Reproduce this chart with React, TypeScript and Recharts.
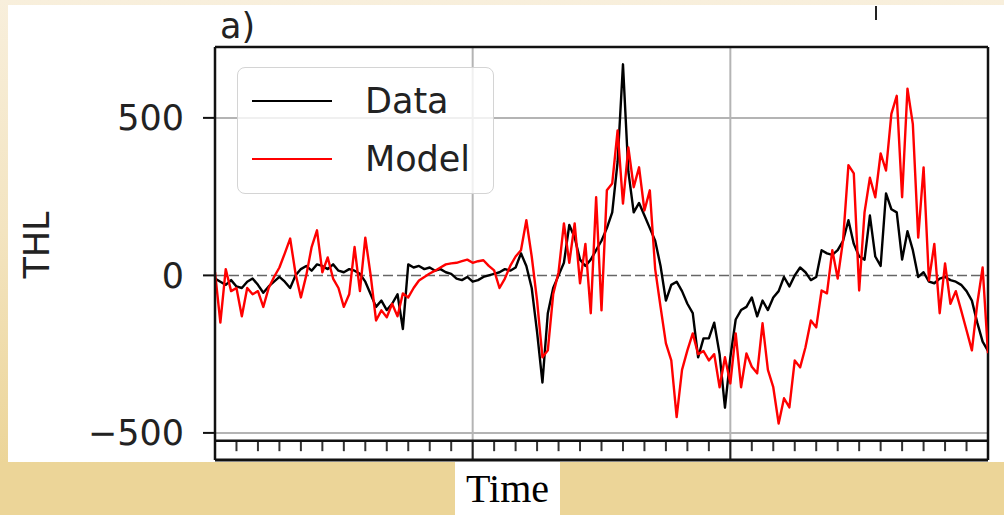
import React from 'react';
import { LineChart, Line, XAxis, YAxis, ReferenceLine, Legend } from 'recharts';

// sampling step in months along the 3-year time axis
const STEP = 0.25;

const dataValues = [
  -10, -20, -30, -15, -35, -40, -20, -10, -30, -55,
  -35, -20, -5, -20, -40, 0, 20, 30, 15, 35,
  30, 20, 35, 15, 10, 20, 15, 5, -20, -60,
  -100, -80, -110, -90, -60, -170, 35, 25, 30, 20,
  25, 15, 20, 10, 5, -10, -15, -5, -20, -15,
  -5, 0, 5, 10, 20, 15, 25, 70, 30, -40,
  -180, -340, -120, -40, 0, 40, 160, 120, 50, 30,
  50, 80, 110, 150, 200, 360, 670, 330, 200, 230,
  190, 150, 110, 30, -80, -30, -20, -50, -90, -120,
  -260, -200, -200, -150, -250, -420, -260, -140, -110, -100,
  -70, -130, -80, -110, -70, -50, -5, -35, 0, 25,
  10, -15, -5, 80, 70, 65, 80, 110, 175, 100,
  60, 50, 190, 60, 30, 260, 210, 200, 50, 140,
  80, -5, 10, -20, -25, -10, -5, -15, -20, -30,
  -50, -80, -150, -210, -240,
];

const modelValues = [
  10, -150, 20, -50, -40, -130, -40, -60, -50, -100,
  -40, -5, 25, 70, 117, 6, -70, 0, 90, 143,
  10, 57, -10, -40, -100, -60, 90, -50, 120, 0,
  -143, -111, -133, -90, -130, -57, -70, -40, -16, -5,
  6, 15, 25, 35, 38, 40, 45, 50, 40, 45,
  48, 30, 16, -40, -10, 30, 60, 80, 175, 60,
  -80, -260, -238, -60, 10, 165, 40, 165, -25, 100,
  -120, 248, -111, 270, 292, 460, 228, 406, 280, 343,
  206, 270, 20, -100, -216, -270, -450, -300, -238, -184,
  -250, -240, -270, -250, -355, -260, -343, -184, -355, -248,
  -290, -311, -152, -300, -355, -470, -390, -419, -270, -292,
  -228, -143, -165, -48, -57, 80, -10, 111, 350, 324,
  -48, 200, 310, 248, 387, 333, 513, 570, 248, 593,
  480, 120, 343, -16, 100, -120, 38, -90, -50, -111,
  -174, -238, -90, 25, -247,
];

const yTicks = [-500, 0, 500];
const gridValuesY = [500, -500];
const yearBoundaries = [12, 24];
const monthTicks = [
  1, 2, 3, 4, 5, 6, 7, 8, 9, 10, 11,
  13, 14, 15, 16, 17, 18, 19, 20, 21, 22, 23,
  25, 26, 27, 28, 29, 30, 31, 32, 33, 34, 35,
];
const X_DOMAIN: [number, number] = [0, 36];
const Y_DOMAIN: [number, number] = [-586, 725];
const STRIP_TOP = -525;
const STRIP_TICK_END = -558;

const rows = dataValues.map((d, i) => ({ t: i * STEP, data: d, model: modelValues[i] }));

const FONT = '"DejaVu Sans", sans-serif';

const renderLegend = (props: any) => {
  const payload = props.payload || [];
  return (
    <div
      style={{
        width: 257,
        height: 127,
        border: '1.5px solid #d4d4d4',
        borderRadius: 8,
        background: 'rgba(255,255,255,0.8)',
        paddingTop: 4,
        boxSizing: 'border-box',
        fontFamily: FONT,
        fontSize: 35,
        color: '#222',
      }}
    >
      {payload.map((p: any) => (
        <div key={p.value} style={{ display: 'flex', alignItems: 'center', height: 58 }}>
          <svg width={80} height={4} style={{ marginLeft: 14, display: 'block' }}>
            <line x1={0} y1={2} x2={80} y2={2} stroke={p.color} strokeWidth={2} />
          </svg>
          <span style={{ marginLeft: 33, lineHeight: '40px' }}>{p.value}</span>
        </div>
      ))}
    </div>
  );
};

export default function App() {
  return (
    <div
      style={{
        position: 'absolute',
        left: 0,
        top: 0,
        width: 1004,
        height: 515,
        overflow: 'hidden',
        background: 'linear-gradient(to bottom, #f8efdc 0%, #f3e4c0 45%, #ecd598 90%, #ecd598 100%)',
      }}
    >
      <div style={{ position: 'absolute', left: 8, top: 5, width: 996, height: 457, background: '#ffffff' }} />
      <div
        style={{
          position: 'absolute',
          left: 455,
          top: 462,
          width: 105,
          height: 53,
          background: '#ffffff',
          fontFamily: '"Liberation Serif", "Times New Roman", serif',
          fontSize: 40,
          lineHeight: '53px',
          textAlign: 'center',
          color: '#000',
        }}
      >
        Time
      </div>
      <div style={{ position: 'absolute', left: 875, top: 6, width: 2, height: 14, background: '#222' }} />
      <div
        style={{
          position: 'absolute',
          left: 220,
          top: 4,
          fontFamily: FONT,
          fontSize: 35,
          lineHeight: '44px',
          color: '#222',
        }}
      >
        a)
      </div>
      <div
        style={{
          position: 'absolute',
          left: -13,
          top: 225,
          width: 100,
          height: 40,
          lineHeight: '40px',
          textAlign: 'center',
          transform: 'rotate(-90deg)',
          fontFamily: FONT,
          fontSize: 35,
          color: '#222',
        }}
      >
        THL
      </div>
      <div style={{ position: 'absolute', left: 0, top: 0 }}>
        <LineChart width={1004} height={515} data={rows} margin={{ top: 47, right: 16, bottom: 55, left: 0 }}>
          <XAxis dataKey="t" type="number" domain={X_DOMAIN} allowDataOverflow hide />
          <YAxis
            type="number"
            domain={Y_DOMAIN}
            allowDataOverflow
            ticks={yTicks}
            interval={0}
            width={215}
            tickSize={12}
            tickMargin={19}
            axisLine={{ stroke: '#111', strokeWidth: 2.5 }}
            tickLine={{ stroke: '#111', strokeWidth: 2 }}
            tick={{ fontSize: 35, fill: '#222', fontFamily: FONT }}
            tickFormatter={(v: number) => (v < 0 ? `\u2212${Math.abs(v)}` : `${v}`)}
          />
          {gridValuesY.map((v) => (
            <ReferenceLine key={`gy${v}`} y={v} stroke="#b4b4b4" strokeWidth={2} />
          ))}
          {yearBoundaries.map((v) => (
            <ReferenceLine key={`gx${v}`} x={v} stroke="#b4b4b4" strokeWidth={2} />
          ))}
          <ReferenceLine y={0} stroke="#666" strokeWidth={1.5} strokeDasharray="10 4" />
          {monthTicks.map((m) => (
            <ReferenceLine
              key={`mt${m}`}
              segment={[{ x: m, y: STRIP_TOP }, { x: m, y: STRIP_TICK_END }]}
              stroke="#333"
              strokeWidth={2}
            />
          ))}
          {yearBoundaries.map((m) => (
            <ReferenceLine
              key={`yt${m}`}
              segment={[{ x: m, y: STRIP_TOP }, { x: m, y: Y_DOMAIN[0] }]}
              stroke="#222"
              strokeWidth={2}
            />
          ))}
          <ReferenceLine y={STRIP_TOP} stroke="#111" strokeWidth={2.5} />
          <ReferenceLine y={Y_DOMAIN[0]} stroke="#111" strokeWidth={3} />
          <ReferenceLine y={Y_DOMAIN[1]} stroke="#111" strokeWidth={2.5} />
          <ReferenceLine x={X_DOMAIN[1]} stroke="#111" strokeWidth={2.5} />
          <Line
            name="Data"
            type="linear"
            dataKey="data"
            stroke="#000000"
            strokeWidth={2.4}
            strokeLinejoin="round"
            dot={false}
            isAnimationActive={false}
          />
          <Line
            name="Model"
            type="linear"
            dataKey="model"
            stroke="#ff0000"
            strokeWidth={2.4}
            strokeLinejoin="round"
            dot={false}
            isAnimationActive={false}
          />
          <Legend
            layout="vertical"
            align="center"
            verticalAlign="middle"
            content={renderLegend}
            wrapperStyle={{ left: 237, top: 67, width: 260 }}
          />
        </LineChart>
      </div>
    </div>
  );
}
